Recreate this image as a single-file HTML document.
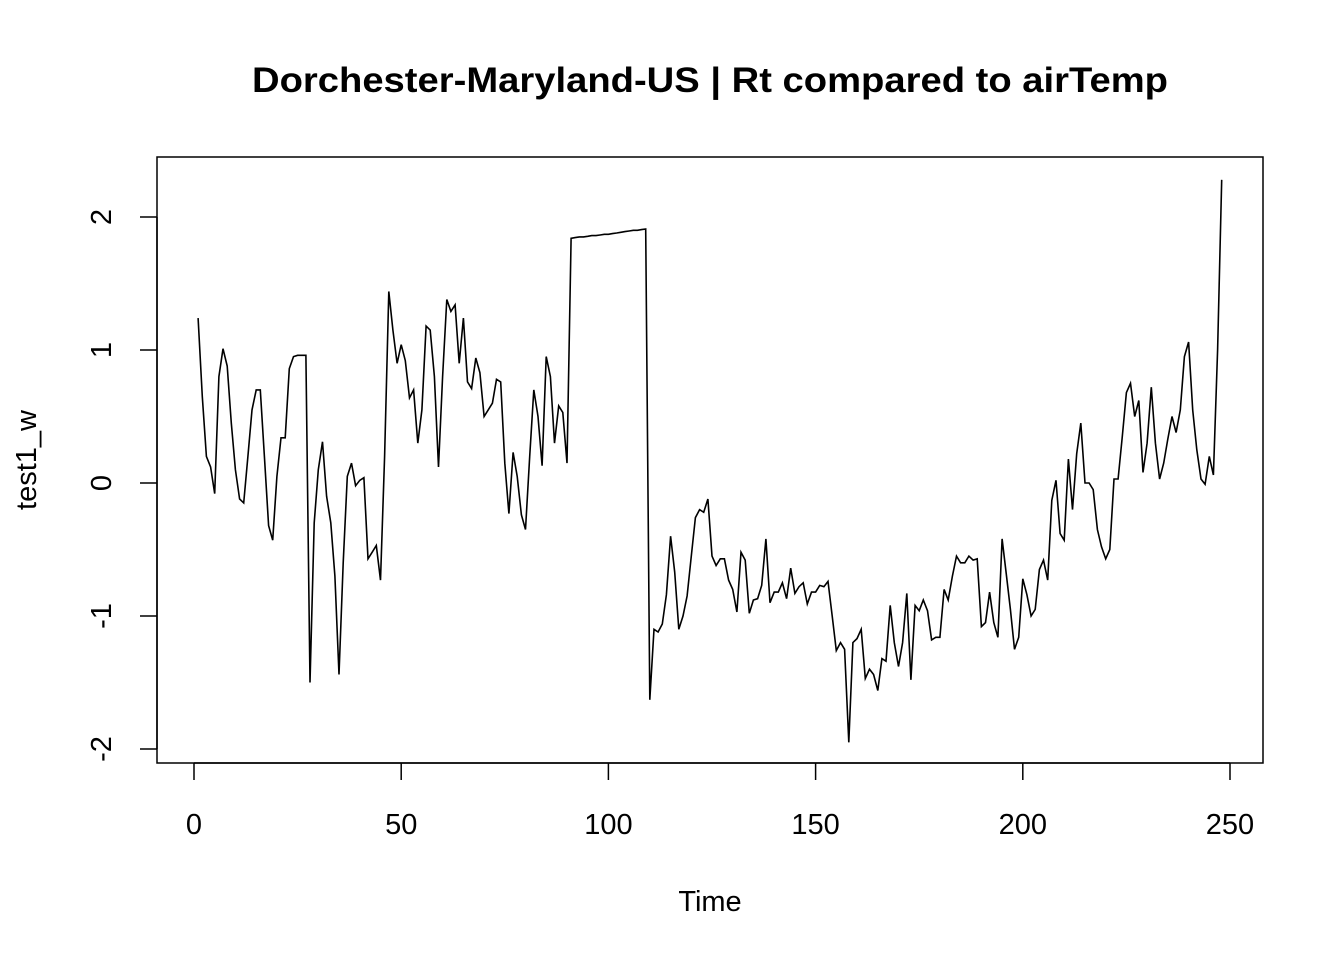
<!DOCTYPE html>
<html><head><meta charset="utf-8"><style>
body{margin:0;background:#fff;}
svg{display:block;font-family:"Liberation Sans",Arial,sans-serif;}
</style></head><body>
<svg id="chart" width="1344" height="960">
<text x="710" y="92" text-anchor="middle" font-size="35" font-weight="bold" textLength="916" lengthAdjust="spacingAndGlyphs">Dorchester-Maryland-US | Rt compared to airTemp</text>
<rect x="157" y="157" width="1106" height="606" fill="none" stroke="#000" stroke-width="1.5"/>
<text x="710" y="911" text-anchor="middle" font-size="29">Time</text>
<text transform="translate(36,460) rotate(-90)" text-anchor="middle" font-size="29">test1_w</text>
<g id="xaxis"></g>
<g id="yaxis"></g>
<path id="line" fill="none" stroke="#000" stroke-width="1.6"/>
</svg>
<script>
const xTicks=[0,50,100,150,200,250];
const yTicks=[-2,-1,0,1,2];
const values=[1.24,0.65,0.2,0.12,-0.08,0.8,1.01,0.88,0.45,0.1,-0.12,-0.15,0.2,0.55,0.7,0.7,0.2,-0.32,-0.43,0.05,
0.34,0.34,0.86,0.95,0.96,0.96,0.96,-1.5,-0.3,0.1,0.31,-0.1,-0.3,-0.7,-1.44,-0.6,0.05,0.15,-0.02,0.02,
0.04,-0.57,-0.52,-0.47,-0.73,0.2,1.44,1.15,0.9,1.04,0.92,0.64,0.7,0.3,0.55,1.18,1.15,0.8,0.12,0.8,
1.38,1.29,1.34,0.9,1.24,0.76,0.71,0.94,0.83,0.5,0.55,0.6,0.78,0.76,0.15,-0.23,0.23,0.05,-0.24,-0.35,
0.2,0.7,0.5,0.13,0.95,0.8,0.3,0.58,0.53,0.15,
1.84,1.845,1.85,1.85,1.855,1.86,1.86,1.865,1.87,1.87,1.875,1.88,1.885,1.89,1.895,1.9,1.9,1.905,1.91,
-1.63,-1.1,-1.12,-1.06,-0.84,-0.4,-0.67,-1.1,-1.0,-0.85,-0.55,-0.26,-0.2,-0.22,-0.12,-0.55,-0.62,-0.57,-0.57,-0.73,
-0.8,-0.97,-0.52,-0.58,-0.98,-0.88,-0.87,-0.77,-0.42,-0.9,-0.82,-0.82,-0.75,-0.87,-0.64,-0.83,-0.78,-0.75,-0.91,-0.82,
-0.82,-0.77,-0.78,-0.74,-1.0,-1.26,-1.2,-1.25,-1.95,-1.2,-1.17,-1.1,-1.47,-1.4,-1.44,-1.56,-1.32,-1.34,-0.92,-1.2,
-1.38,-1.2,-0.83,-1.48,-0.92,-0.96,-0.88,-0.96,-1.18,-1.16,-1.16,-0.8,-0.88,-0.7,-0.55,-0.6,-0.6,-0.55,-0.58,-0.57,
-1.08,-1.05,-0.82,-1.05,-1.16,-0.42,-0.68,-0.95,-1.25,-1.16,-0.72,-0.84,-1.0,-0.95,-0.65,-0.58,-0.73,-0.13,0.02,-0.38,
-0.43,0.18,-0.2,0.22,0.45,0.0,0.0,-0.05,-0.35,-0.48,-0.57,-0.5,0.03,0.03,0.35,0.68,0.75,0.5,0.62,0.08,
0.3,0.72,0.3,0.03,0.15,0.33,0.5,0.38,0.55,0.95,1.06,0.55,0.25,0.03,-0.01,0.2,0.06,1.0,2.28];
const NS='http://www.w3.org/2000/svg';
const xs=v=>194+v*(1230-194)/250;
const ys=v=>483-v*133;
const xa=document.getElementById('xaxis'),ya=document.getElementById('yaxis');
function mk(tag,at,parent){const e=document.createElementNS(NS,tag);for(const k in at)e.setAttribute(k,at[k]);parent.appendChild(e);return e;}
mk('line',{x1:xs(xTicks[0]),x2:xs(xTicks[xTicks.length-1]),y1:763,y2:763,stroke:'#000','stroke-width':1.5},xa);
xTicks.forEach(t=>{
 const l=mk('line',{x1:xs(t),x2:xs(t),y1:763,y2:780,stroke:'#000','stroke-width':1.5},xa);
 
 
 const tx=mk('text',{x:xs(t),y:834,'text-anchor':'middle','font-size':29},xa);
 tx.textContent=t;
 
 
});
mk('line',{x1:157,x2:157,y1:ys(yTicks[0]),y2:ys(yTicks[yTicks.length-1]),stroke:'#000','stroke-width':1.5},ya);
yTicks.forEach(t=>{
 const l=mk('line',{x1:140,x2:157,y1:ys(t),y2:ys(t),stroke:'#000','stroke-width':1.5},ya);
 
 
 const tx=mk('text',{transform:`translate(111,${ys(t)}) rotate(-90)`,'text-anchor':'middle','font-size':29},ya);
 tx.textContent=t;
 
 
});
document.getElementById('line').setAttribute('d',values.map((v,i)=>(i?'L':'M')+xs(i+1).toFixed(1)+','+ys(v).toFixed(1)).join(''));
</script>
</body></html>
